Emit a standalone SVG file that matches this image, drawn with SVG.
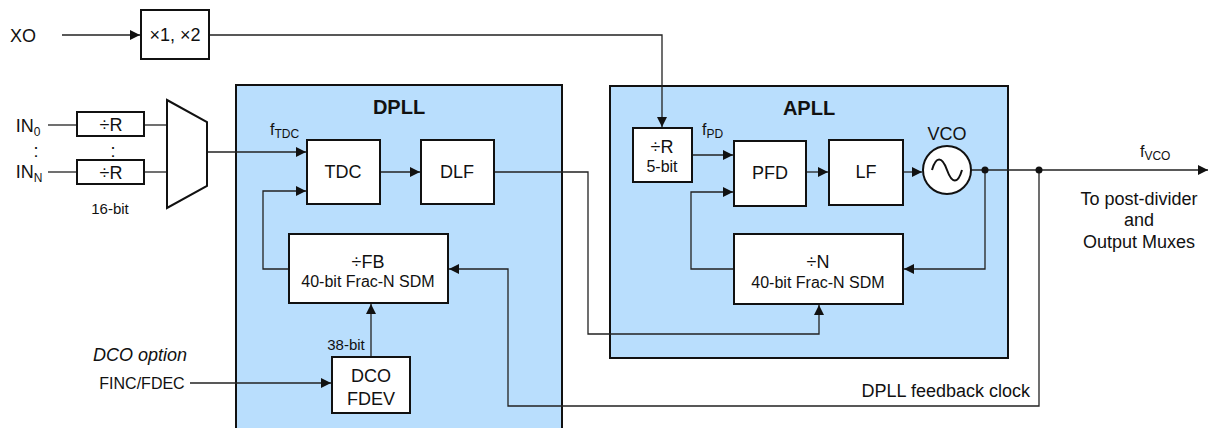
<svg xmlns="http://www.w3.org/2000/svg" width="1210" height="428" viewBox="0 0 1210 428">
<defs>
<style>
text{font-family:"Liberation Sans",Arial,sans-serif;fill:#111}
.blk{fill:#fff;stroke:#111;stroke-width:2}
.pll{fill:#b9defd;stroke:#111;stroke-width:2}
.w{fill:none;stroke:#222;stroke-width:1.3}
.t16{font-size:18px;text-anchor:middle}
.t13{font-size:16px;text-anchor:middle}
.t15{font-size:16px}
.ttl{font-size:20px;font-weight:bold;text-anchor:middle}
</style>
<marker id="ah" viewBox="0 0 10 10" refX="10" refY="5" markerWidth="10" markerHeight="10" markerUnits="userSpaceOnUse" orient="auto">
<path d="M0,0 L10,5 L0,10 z" fill="#111"/>
</marker>
</defs>

<g id="dpll"><rect class="pll" x="236" y="85" width="326" height="350"/><text class="ttl" x="399" y="114">DPLL</text></g>
<g id="apll"><rect class="pll" x="610" y="86" width="398" height="272"/><text class="ttl" x="809" y="115">APLL</text></g>

<g id="connectors">
<path class="w" d="M62,35 H140" marker-end="url(#ah)"/>
<path class="w" d="M209,35 H662 V127" marker-end="url(#ah)"/>
<path class="w" d="M48,125 H77"/>
<path class="w" d="M48,172 H77"/>
<path class="w" d="M144,125 H167"/>
<path class="w" d="M144,172 H167"/>
<path class="w" d="M207,152 H306" marker-end="url(#ah)"/>
<path class="w" d="M380,172 H420" marker-end="url(#ah)"/>
<path class="w" d="M289,269 H263 V191 H306" marker-end="url(#ah)"/>
<path class="w" d="M371,357 V304" marker-end="url(#ah)"/>
<path class="w" d="M190,383 H331" marker-end="url(#ah)"/>
<path class="w" d="M1039,170 V406 H508 V269 H449" marker-end="url(#ah)"/>
<path class="w" d="M494,172 H588 V334 H819 V305" marker-end="url(#ah)"/>
<path class="w" d="M692,155 H733" marker-end="url(#ah)"/>
<path class="w" d="M734,269 H691 V192 H733" marker-end="url(#ah)"/>
<path class="w" d="M806,172 H828" marker-end="url(#ah)"/>
<path class="w" d="M903,172 H922" marker-end="url(#ah)"/>
<path class="w" d="M985,170 V269 H904" marker-end="url(#ah)"/>
<path class="w" d="M971,170 H1208" marker-end="url(#ah)"/>
<circle cx="985" cy="170" r="3.5" fill="#111"/>
<circle cx="1039" cy="170" r="3.5" fill="#111"/>
</g>

<g id="xo"><text class="t16" x="23" y="42">XO</text></g>
<g id="mult"><rect class="blk" x="141" y="10" width="68" height="49"/><text class="t16" x="175" y="41">×1, ×2</text></g>
<g id="in0"><text class="t16" x="28" y="132">IN<tspan font-size="12" dy="4">0</tspan></text></g>
<g id="inN"><text class="t16" x="29" y="178">IN<tspan font-size="12" dy="4">N</tspan></text></g>
<text class="t16" x="36" y="157">:</text>
<text class="t16" x="113" y="157">:</text>
<g id="divr0"><rect class="blk" x="77" y="112" width="67" height="24"/><text class="t16" x="111" y="131">÷R</text></g>
<g id="divrN"><rect class="blk" x="77" y="160" width="67" height="24"/><text class="t16" x="111" y="179">÷R</text></g>
<text class="t13" x="110" y="214" style="font-size:15px">16-bit</text>
<g id="mux"><path class="blk" d="M167,100 L207,122 L207,186 L167,208 Z"/></g>
<text class="t15" x="270" y="135">f<tspan font-size="12" dy="3">TDC</tspan></text>
<g id="tdc"><rect class="blk" x="307" y="140" width="73" height="64"/><text class="t16" x="343" y="178">TDC</text></g>
<g id="dlf"><rect class="blk" x="421" y="140" width="73" height="64"/><text class="t16" x="457" y="178">DLF</text></g>
<g id="fb"><rect class="blk" x="289" y="234" width="159" height="69"/><text class="t16" x="368" y="268">÷FB</text><text class="t13" x="368" y="287">40-bit Frac-N SDM</text></g>
<text class="t13" x="346" y="350" style="font-size:15px">38-bit</text>
<g id="dco"><rect class="blk" x="332" y="357" width="78" height="56"/><text class="t16" x="371" y="382">DCO</text><text class="t16" x="371" y="405">FDEV</text></g>
<text class="t16" x="140" y="361" style="font-style:italic">DCO option</text>
<text class="t15" x="142" y="389" style="text-anchor:middle">FINC/FDEC</text>
<g id="apll_r"><rect class="blk" x="633" y="128" width="59" height="54"/><text class="t16" x="662" y="153">÷R</text><text class="t13" x="662" y="172">5-bit</text></g>
<text class="t15" x="702" y="135">f<tspan font-size="12" dy="3">PD</tspan></text>
<g id="pfd"><rect class="blk" x="734" y="141" width="72" height="65"/><text class="t16" x="770" y="179">PFD</text></g>
<g id="lf"><rect class="blk" x="829" y="140" width="74" height="65"/><text class="t16" x="866" y="178">LF</text></g>
<g id="vco"><circle class="blk" cx="947" cy="170" r="24"/><path d="M932,170 C936,156 942,156 947,170 C952,184 958,184 962,170" fill="none" stroke="#111" stroke-width="2"/><text class="t16" x="947" y="140">VCO</text></g>
<g id="divn"><rect class="blk" x="734" y="234" width="169" height="70"/><text class="t16" x="818" y="268">÷N</text><text class="t13" x="818" y="288">40-bit Frac-N SDM</text></g>
<text class="t15" x="1140" y="157">f<tspan font-size="12" dy="3">VCO</tspan></text>
<text class="t16" x="1139" y="205">To post-divider</text>
<text class="t16" x="1139" y="226">and</text>
<text class="t16" x="1139" y="248">Output Muxes</text>
<text class="t16" x="1030" y="397" style="text-anchor:end">DPLL feedback clock</text>
</svg>
